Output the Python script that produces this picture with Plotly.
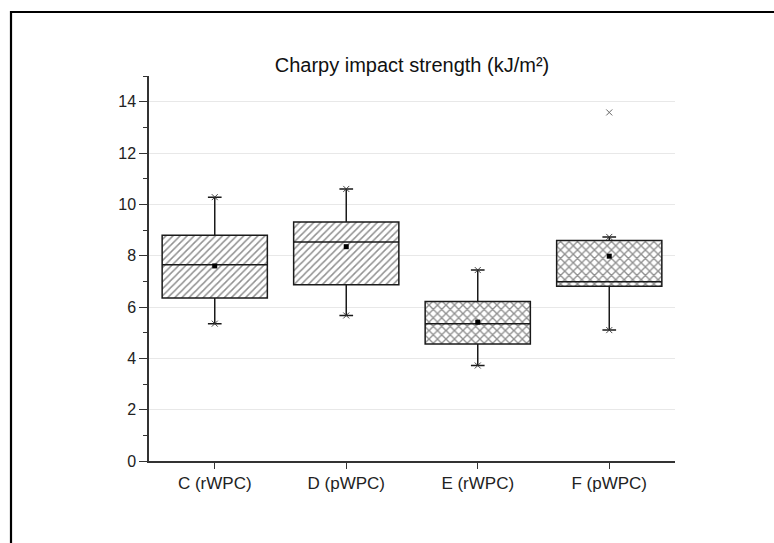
import plotly.graph_objects as go

categories = ["C (rWPC)", "D (pWPC)", "E (rWPC)", "F (pWPC)"]
q1 = [6.35, 6.87, 4.56, 6.81]
median = [7.65, 8.53, 5.35, 6.98]
q3 = [8.80, 9.31, 6.21, 8.59]
lower = [5.35, 5.67, 3.72, 5.10]
upper = [10.28, 10.60, 7.44, 8.73]
mean = [7.60, 8.35, 5.41, 7.98]
patterns = ["/", "/", "x", "x"]
outlier_cat = ["F (pWPC)"]
outlier_val = [13.58]
title_text = "Charpy impact strength (kJ/m²)"

W, H = 774, 543
L, R, T, B = 149, 99, 76, 82
pw, ph = W - L - R, H - T - B

font_family = "Liberation Sans, Arial, sans-serif"

fig = go.Figure()

# hatched box fills
fig.add_trace(go.Bar(
    x=categories,
    y=[b - a for a, b in zip(q1, q3)],
    base=q1,
    width=0.8,
    marker=dict(
        color="white",
        line=dict(width=0),
        pattern=dict(shape=patterns, fgcolor="#222222", bgcolor="white",
                     size=[5, 5, 6, 6], solidity=[0.3, 0.3, 0.4, 0.4]),
    ),
    hoverinfo="skip",
    showlegend=False,
))

# box outlines, medians, whiskers
fig.add_trace(go.Box(
    x=categories,
    q1=q1, median=median, q3=q3,
    lowerfence=lower, upperfence=upper,
    width=0.8,
    whiskerwidth=0.13,
    boxpoints=False,
    fillcolor="rgba(0,0,0,0)",
    line=dict(color="#1a1a1a", width=1.5),
    showlegend=False,
))

# whisker end markers
fig.add_trace(go.Scatter(
    x=categories + categories,
    y=lower + upper,
    mode="markers",
    marker=dict(symbol="x-thin", size=6, line=dict(width=0.9, color="#333333")),
    showlegend=False, hoverinfo="skip",
))

# means
fig.add_trace(go.Scatter(
    x=categories, y=mean, mode="markers",
    marker=dict(symbol="square", size=5, color="black"),
    showlegend=False,
))

# outlier
fig.add_trace(go.Scatter(
    x=outlier_cat, y=outlier_val, mode="markers",
    marker=dict(symbol="x-thin", size=6, line=dict(width=1, color="#666666")),
    showlegend=False,
))

def px_to_paper_x(px):
    return (px - L) / pw

def py_to_paper_y(py):
    return (H - B - py) / ph

fig.add_shape(
    type="rect", xref="paper", yref="paper",
    x0=px_to_paper_x(11), x1=px_to_paper_x(W + 10),
    y0=py_to_paper_y(H + 10), y1=py_to_paper_y(12),
    line=dict(color="black", width=2.2), fillcolor="rgba(0,0,0,0)",
)

fig.update_layout(
    width=W, height=H,
    margin=dict(l=L, r=R, t=T, b=B),
    paper_bgcolor="white", plot_bgcolor="white",
    font=dict(family=font_family, color="#222222"),
    title=dict(text=title_text, x=(L + pw / 2) / W, xanchor="center",
               y=1 - 65 / H, yanchor="middle", yref="container",
               font=dict(size=20, color="#111111")),
    showlegend=False,
    bargap=0,
)

fig.update_xaxes(
    type="category", range=[-0.5, 3.5],
    showline=True, linecolor="#333333", linewidth=1.5,
    ticks="outside", ticklen=6, tickcolor="#333333", tickwidth=1.3,
    showgrid=False, tickfont=dict(size=17),
)
fig.update_yaxes(
    range=[0, 15], tick0=0, dtick=2,
    showline=True, linecolor="#333333", linewidth=1.5,
    ticks="outside", ticklen=8, tickcolor="#333333", tickwidth=1.3,
    minor=dict(dtick=1, ticks="outside", ticklen=4, tickcolor="#333333", showgrid=False),
    showgrid=True, gridcolor="#e8e8e8", gridwidth=1,
    zeroline=False, tickfont=dict(size=16),
)

fig.write_html("out.html")
